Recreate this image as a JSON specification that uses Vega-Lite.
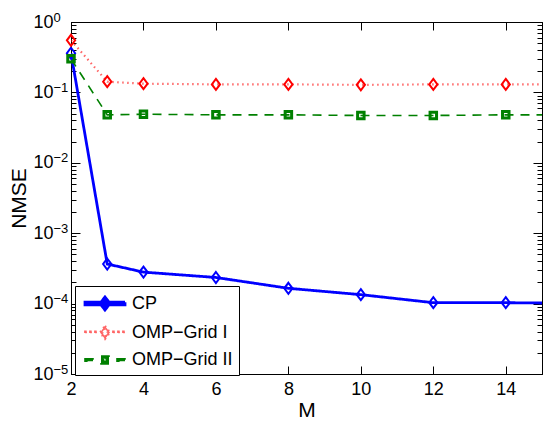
{
  "$schema": "https://vega.github.io/schema/vega-lite/v6.json",
  "width": 471,
  "height": 352,
  "autosize": {"type": "none"},
  "padding": {"left": 71, "top": 22, "right": 1, "bottom": 52},
  "background": "white",
  "config": {
    "view": {"stroke": "black", "strokeWidth": 1},
    "axis": {
      "labelFont": "Liberation Sans",
      "labelFontSize": 18,
      "labelColor": "black",
      "titleFont": "Liberation Sans",
      "titleFontSize": 21,
      "titleFontWeight": "normal",
      "titleColor": "black",
      "domainColor": "black",
      "domainWidth": 1,
      "tickColor": "black",
      "tickWidth": 1,
      "grid": false,
      "labelOverlap": false,
      "labelFlush": false
    }
  },
  "data": {
    "values": [
      {"M": 2, "NMSE": 0.36, "series": "CP"},
      {"M": 3, "NMSE": 0.000365, "series": "CP"},
      {"M": 4, "NMSE": 0.00028, "series": "CP"},
      {"M": 6, "NMSE": 0.000235, "series": "CP"},
      {"M": 8, "NMSE": 0.000165, "series": "CP"},
      {"M": 10, "NMSE": 0.000134, "series": "CP"},
      {"M": 12, "NMSE": 0.000103, "series": "CP"},
      {"M": 14, "NMSE": 0.000103, "series": "CP"},
      {"M": 15, "NMSE": 0.000102, "series": "CP"},
      {"M": 2, "NMSE": 0.55, "series": "OMP−Grid I"},
      {"M": 3, "NMSE": 0.142, "series": "OMP−Grid I"},
      {"M": 4, "NMSE": 0.133, "series": "OMP−Grid I"},
      {"M": 6, "NMSE": 0.13, "series": "OMP−Grid I"},
      {"M": 8, "NMSE": 0.13, "series": "OMP−Grid I"},
      {"M": 10, "NMSE": 0.128, "series": "OMP−Grid I"},
      {"M": 12, "NMSE": 0.13, "series": "OMP−Grid I"},
      {"M": 14, "NMSE": 0.13, "series": "OMP−Grid I"},
      {"M": 15, "NMSE": 0.13, "series": "OMP−Grid I"},
      {"M": 2, "NMSE": 0.30, "series": "OMP−Grid II"},
      {"M": 3, "NMSE": 0.048, "series": "OMP−Grid II"},
      {"M": 4, "NMSE": 0.049, "series": "OMP−Grid II"},
      {"M": 6, "NMSE": 0.048, "series": "OMP−Grid II"},
      {"M": 8, "NMSE": 0.048, "series": "OMP−Grid II"},
      {"M": 10, "NMSE": 0.047, "series": "OMP−Grid II"},
      {"M": 12, "NMSE": 0.047, "series": "OMP−Grid II"},
      {"M": 14, "NMSE": 0.048, "series": "OMP−Grid II"},
      {"M": 15, "NMSE": 0.048, "series": "OMP−Grid II"}
    ]
  },
  "resolve": {"axis": {"x": "independent", "y": "independent"}},
  "layer": [
    {
      "mark": {"type": "line", "clip": true},
      "encoding": {
        "x": {
          "field": "M", "type": "quantitative",
          "scale": {"domain": [2, 15], "nice": false, "zero": false},
          "axis": {"orient": "bottom", "values": [2, 4, 6, 8, 10, 12, 14], "tickSize": -8, "labelPadding": 14, "title": "M", "titlePadding": 1}
        },
        "y": {
          "field": "NMSE", "type": "quantitative",
          "scale": {"type": "log", "domain": [0.00001, 1], "nice": false},
          "axis": {
            "orient": "left",
            "values": [0.00001, 0.00002, 0.00003, 0.00004, 0.00005, 0.00006, 0.00007, 0.00008, 0.00009, 0.0001, 0.0002, 0.0003, 0.0004, 0.0005, 0.0006, 0.0007, 0.0008, 0.0009, 0.001, 0.002, 0.003, 0.004, 0.005, 0.006, 0.007, 0.008, 0.009, 0.01, 0.02, 0.03, 0.04, 0.05, 0.06, 0.07, 0.08, 0.09, 0.1, 0.2, 0.3, 0.4, 0.5, 0.6, 0.7, 0.8, 0.9, 1],
            "tickSize": {"condition": {"test": "abs(log(datum.value)/LN10 - round(log(datum.value)/LN10)) < 0.001", "value": -9}, "value": -5},
            "labels": false,
            "title": null
          }
        },
        "color": {
          "field": "series", "type": "nominal",
          "scale": {"domain": ["CP", "OMP−Grid I", "OMP−Grid II"], "range": ["#0000ff", "#ff0000", "#008000"]},
          "legend": {
            "orient": "none", "legendX": 4, "legendY": 264,
            "title": null,
            "symbolSize": 400,
            "labelFont": "Liberation Sans", "labelFontSize": 18, "labelColor": "black",
            "labelOffset": 28, "labelLimit": 300,
            "padding": 6, "rowPadding": 5,
            "strokeColor": "black", "fillColor": "white",
            "encode": {
              "symbols": {
                "update": {
                  "shape": {"signal": "datum.value === 'CP' ? 'M-0.75,-0.13L3.25,-0.13L3.25,0.13L-0.75,0.13Z M1.25,-0.65L1.75,0L1.25,0.65L0.75,0Z M1.25,-0.4L0.95,0L1.25,0.4L1.55,0Z' : datum.value === 'OMP−Grid I' ? 'M-0.73,-0.08L-0.57,-0.08L-0.57,0.08L-0.73,0.08Z M-0.23,-0.08L-0.07,-0.08L-0.07,0.08L-0.23,0.08Z M0.27,-0.08L0.43,-0.08L0.43,0.08L0.27,0.08Z M2.07,-0.08L2.23,-0.08L2.23,0.08L2.07,0.08Z M2.57,-0.08L2.73,-0.08L2.73,0.08L2.57,0.08Z M3.07,-0.08L3.23,-0.08L3.23,0.08L3.07,0.08Z M1.25,-0.65L1.75,0L1.25,0.65L0.75,0Z M1.25,-0.4L0.95,0L1.25,0.4L1.55,0Z' : 'M-0.75,-0.13L0.05,-0.13L0.05,0.13L-0.75,0.13Z M2.45,-0.13L3.25,-0.13L3.25,0.13L2.45,0.13Z M0.85,-0.4L1.65,-0.4L1.65,0.4L0.85,0.4Z M1.1,-0.12L1.1,0.12L1.4,0.12L1.4,-0.12Z'"},
                  "fill": {"signal": "datum.value === 'CP' ? '#0000ff' : datum.value === 'OMP−Grid I' ? '#ff0000' : '#008000'"},
                  "stroke": {"value": "transparent"},
                  "strokeWidth": {"value": 0},
                  "opacity": {"value": 1}
                }
              }
            }
          }
        },
        "strokeDash": {
          "field": "series", "type": "nominal",
          "scale": {"domain": ["CP", "OMP−Grid I", "OMP−Grid II"], "range": [[1, 0], [1.5, 3.5], [9, 7]]},
          "legend": null
        },
        "strokeWidth": {
          "field": "series", "type": "ordinal",
          "scale": {"domain": ["CP", "OMP−Grid I", "OMP−Grid II"], "range": [2.8, 1.6, 2.8]},
          "legend": null
        },
        "opacity": {
          "field": "series", "type": "ordinal",
          "scale": {"type": "ordinal", "domain": ["CP", "OMP−Grid I", "OMP−Grid II"], "range": [1, 0.6, 1]},
          "legend": null
        }
      }
    },
    {
      "transform": [{"filter": "datum.M <= 14 && datum.series == 'CP'"}],
      "mark": {"type": "point", "shape": "M0,-1L0.75,0L0,1L-0.75,0Z", "size": 121, "filled": false, "strokeWidth": 2, "opacity": 1},
      "encoding": {
        "x": {
          "field": "M", "type": "quantitative",
          "axis": {"orient": "top", "values": [2, 4, 6, 8, 10, 12, 14], "tickSize": -8, "labels": false, "title": null}
        },
        "y": {
          "field": "NMSE", "type": "quantitative",
          "axis": {
            "orient": "right",
            "values": [0.00001, 0.00002, 0.00003, 0.00004, 0.00005, 0.00006, 0.00007, 0.00008, 0.00009, 0.0001, 0.0002, 0.0003, 0.0004, 0.0005, 0.0006, 0.0007, 0.0008, 0.0009, 0.001, 0.002, 0.003, 0.004, 0.005, 0.006, 0.007, 0.008, 0.009, 0.01, 0.02, 0.03, 0.04, 0.05, 0.06, 0.07, 0.08, 0.09, 0.1, 0.2, 0.3, 0.4, 0.5, 0.6, 0.7, 0.8, 0.9, 1],
            "tickSize": {"condition": {"test": "abs(log(datum.value)/LN10 - round(log(datum.value)/LN10)) < 0.001", "value": -9}, "value": -5},
            "labels": false,
            "title": null
          }
        },
        "color": {"field": "series", "type": "nominal"}
      }
    },
    {
      "transform": [{"filter": "datum.M <= 14 && datum.series == 'OMP−Grid I'"}],
      "mark": {"type": "point", "shape": "M0,-1L0.75,0L0,1L-0.75,0Z", "size": 121, "filled": false, "strokeWidth": 2, "opacity": 1},
      "encoding": {
        "x": {"field": "M", "type": "quantitative", "axis": null},
        "y": {
          "field": "NMSE", "type": "quantitative",
          "axis": {
            "orient": "left",
            "values": [0.00001, 0.0001, 0.001, 0.01, 0.1, 1],
            "tickSize": -9,
            "tickOpacity": 0,
            "domain": false,
            "labelExpr": "'10'",
            "labelAlign": "left",
            "labelBaseline": "middle",
            "labelPadding": 47,
            "labelFontSize": 18,
            "title": "NMSE",
            "titlePadding": 4
          }
        },
        "color": {"field": "series", "type": "nominal"}
      }
    },
    {
      "transform": [{"filter": "datum.M <= 14 && datum.series == 'OMP−Grid II'"}],
      "mark": {"type": "point", "shape": "square", "size": 42, "filled": false, "strokeWidth": 3, "opacity": 1},
      "encoding": {
        "x": {"field": "M", "type": "quantitative", "axis": null},
        "y": {
          "field": "NMSE", "type": "quantitative",
          "axis": {
            "orient": "left",
            "values": [0.00001, 0.0001, 0.001, 0.01, 0.1, 1],
            "tickSize": -9,
            "tickOpacity": 0,
            "domain": false,
            "labelExpr": "['0','−1','−2','−3','−4','−5'][round(-log(datum.value)/LN10)]",
            "labelAlign": "left",
            "labelBaseline": "middle",
            "labelPadding": 27,
            "labelOffset": -5,
            "labelFontSize": 13,
            "title": null
          }
        },
        "color": {"field": "series", "type": "nominal"}
      }
    }
  ]
}
